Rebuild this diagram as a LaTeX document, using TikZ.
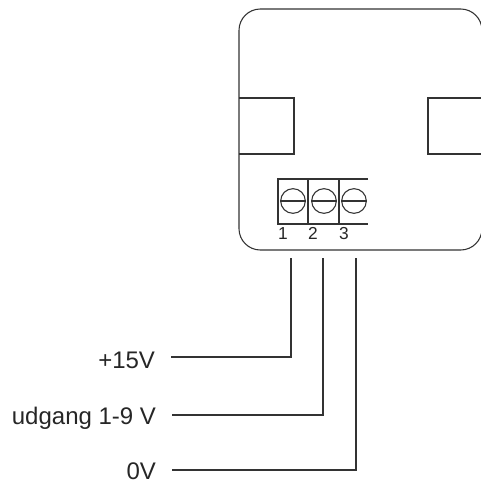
\documentclass[tikz,border=0pt]{standalone}
\usepackage{fontspec}
\setmainfont{Liberation Sans}
\usetikzlibrary{calc}
\tikzset{
  line/.style={black!80, line width=.8pt},
  screw/.style={circle, draw, black!80, line width=.8pt, minimum size=18.5pt, inner sep=0},
  pinlabel/.style={black!85, font=\fontsize{13}{13}\selectfont, inner sep=0},
  wirelabel/.style={black!85, font=\fontsize{18}{18}\selectfont, anchor=east, inner ysep=0, inner xsep=12pt, outer sep=0},
}
\begin{document}
\begin{tikzpicture}[x=.75pt,y=-.75pt]
\useasboundingbox (0,0) rectangle (481,482);
\draw[line, rounded corners=16] (239,9) rectangle (482,250);
\draw[line] (239,98)--(294,98)--(294,154)--(239,154);
\draw[line] (481,98)--(428,98)--(428,154)--(481,154);
\draw[line] (368,179)--(278,179)--(278,224)--(368,224);
\foreach \x in {308,339} {
\draw[line] (\x,179)--(\x,224);
}
\foreach \x/\n/\p in {293/1/283,324/2/313,354/3/344} {
 \node[screw] (screw\n) at (\x,201) {};
 \draw[line] (screw\n.west)--(screw\n.east);
 \node[pinlabel] (pin\n) at (\p,233.5) {\n};
}
\coordinate (wire1) at (291,258);
\coordinate (wire2) at (323,258);
\coordinate (wire3) at (356,258);
\node[wirelabel] (plus) at (171,360) {+15V};
\node[wirelabel] (out) at (172,418) {udgang 1-9 V};
\node[wirelabel] (zero) at (172,471.5) {0V};
\draw[line] ($(plus.east)+(0,-3)$) -| (wire1);
\draw[line] ($(out.east)+(0,-3)$) -| (wire2);
\draw[line] ($(zero.east)+(0,-1.5)$) -| (wire3);
\end{tikzpicture}
\end{document}
